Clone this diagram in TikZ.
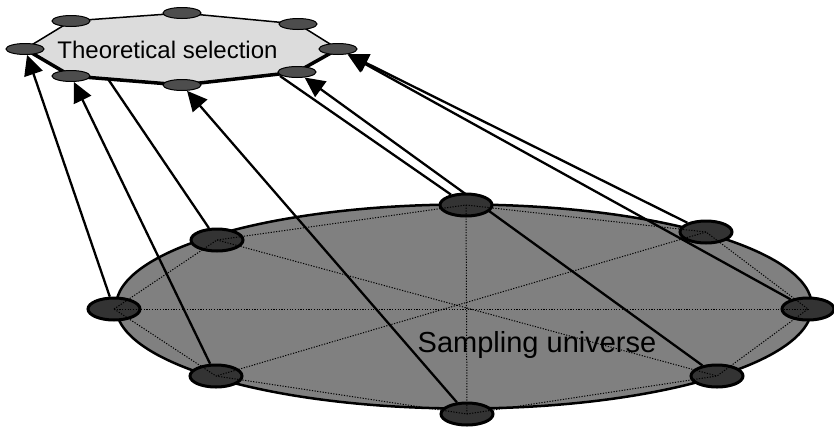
\documentclass[tikz,border=0pt]{standalone}
\usepackage{fontspec}
\setmainfont{Liberation Sans}
\usetikzlibrary{arrows.meta,shapes.geometric}
\definecolor{univ}{HTML}{808080}
\definecolor{bignode}{HTML}{333333}
\definecolor{octfill}{HTML}{DCDCDC}
\definecolor{smallnode}{HTML}{4D4D4D}
\pgfdeclarelayer{bg}
\pgfdeclarelayer{conn}
\pgfdeclarelayer{front}
\pgfsetlayers{bg,conn,main,front}
\tikzset{
  bigdot/.style={ellipse, draw=black, line width=3pt, fill=bignode,
    minimum width=52pt, minimum height=22pt, inner sep=0pt},
  smalldot/.style={ellipse, draw=black, line width=1pt, fill=smallnode,
    minimum width=38pt, minimum height=11pt, inner sep=0pt},
  conn/.style={line width=2.3pt, draw=black},
  arr/.style={conn, -{Triangle[length=20pt,width=19pt]}},
  web/.style={line width=1pt, dash pattern=on 1.2pt off 1.5pt},
  lbl/.style={anchor=base, inner sep=0pt},
}
\begin{document}
\begin{tikzpicture}[x=1pt,y=-1pt]
\useasboundingbox (0,0) rectangle (834,429);
% nodes of the sampling universe
\node[bigdot] (bL)  at (114,309) {};
\node[bigdot] (bUL) at (217,240) {};
\node[bigdot] (bT)  at (466,205) {};
\node[bigdot] (bUR) at (706,232) {};
\node[bigdot] (bR)  at (808,309) {};
\node[bigdot] (bLR) at (717,376) {};
\node[bigdot] (bB)  at (467,414) {};
\node[bigdot] (bLL) at (216,376) {};
% nodes of the theoretical selection
\node[smalldot] (sL)  at (25,49) {};
\node[smalldot] (sUL) at (71,21) {};
\node[smalldot] (sT)  at (182,13) {};
\node[smalldot] (sUR) at (298,24) {};
\node[smalldot] (sR)  at (338,49) {};
\node[smalldot] (sLR) at (297,72) {};
\node[smalldot] (sB)  at (182,85) {};
\node[smalldot] (sLL) at (71,76) {};
\coordinate (cC) at (108,79);
\coordinate (cF) at (280,76);
\begin{pgfonlayer}{bg}
  \fill[white] (0,0) rectangle (834,429);
  \draw[line width=2.5pt, fill=univ] (464,306.5) ellipse [x radius=348pt, y radius=102pt];
  \filldraw[fill=octfill, line width=1.5pt, line join=round]
    (sL.center) -- (sUL.center) -- (sT.center) -- (sUR.center) -- (sR.center)
    -- (sLR.center) -- (sB.center) -- (sLL.center) -- cycle;
  \draw[line width=3.5pt, line join=round, line cap=round]
    (sL.center) -- (sLL.center) -- (sB.center) -- (sLR.center) -- (sR.center);
  \node[lbl, font=\fontsize{24}{28}\selectfont] (ttl) at (167.5,58) {Theoretical selection};
\end{pgfonlayer}
\begin{pgfonlayer}{conn}
  \draw[arr] (bL) -- (sL);
  \draw[arr] (bLL) -- (sLL);
  \draw[conn] (bUL) -- (cC);
  \draw[arr] (bB) -- (sB);
  \draw[conn] (bT) -- (cF);
  \draw[arr] (bLR) -- (sLR);
  \draw[arr] (bUR) -- (sR);
  \draw[arr] (bR) -- (sR);
\end{pgfonlayer}
\begin{pgfonlayer}{front}
  \draw[web] (bL.center) -- (bUL.center) -- (bT.center) -- (bUR.center) -- (bR.center)
    -- (bLR.center) -- (bB.center) -- (bLL.center) -- cycle;
  \draw[web] (bL.center) -- (bR.center);
  \draw[web] (bT.center) -- (bB.center);
  \draw[web] (bUL.center) -- (bLR.center);
  \draw[web] (bUR.center) -- (bLL.center);
  \node[lbl, font=\fontsize{29}{34}\selectfont] (uni) at (537,352) {Sampling universe};
\end{pgfonlayer}
\end{tikzpicture}
\end{document}
